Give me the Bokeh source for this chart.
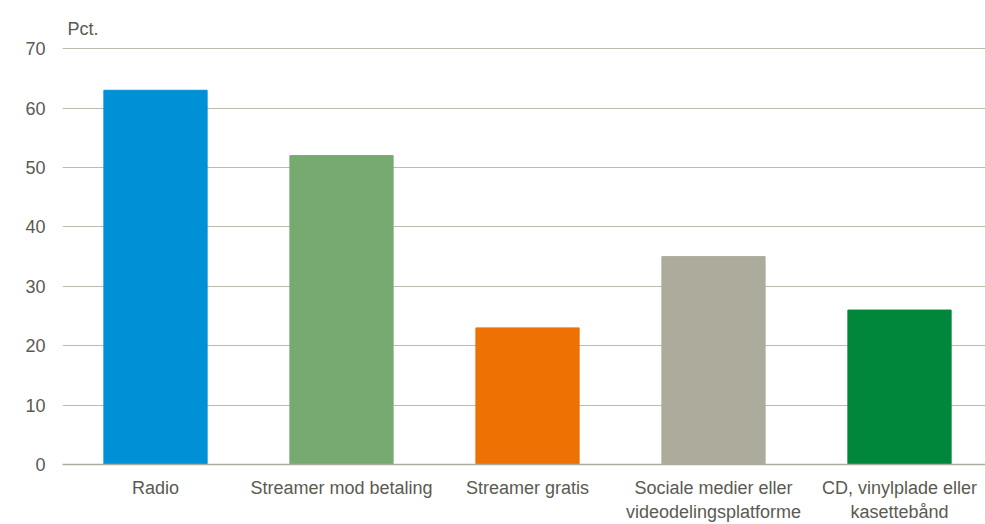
from bokeh.plotting import figure
from bokeh.models import Range1d, FixedTicker, ColumnDataSource
from bokeh.embed import file_html
from bokeh.resources import INLINE

categories = ["Radio", "Streamer mod betaling", "Streamer gratis",
              "Sociale medier eller\nvideodelingsplatforme", "CD, vinylplade eller\nkasettebånd"]
values = [63, 52, 23, 35, 26]
colors = ["#0090D5", "#77AA71", "#EE7203", "#ADAC9C", "#00873B"]
y_ticks = [0, 10, 20, 30, 40, 50, 60, 70]

FONT = "Liberation Sans"
TXT = "#5a5a52"

xpos = [i + 0.5 for i in range(len(categories))]
src = ColumnDataSource(dict(x=xpos, top=values, color=colors))

p = figure(width=985, height=524, output_backend="svg", toolbar_location=None,
           x_range=Range1d(0, 923 / 186), y_range=Range1d(0, 70.2),
           min_border_left=62, min_border_right=0, min_border_top=47, min_border_bottom=60,
           title="Pct.")
p.outline_line_color = None
p.background_fill_color = "white"
p.border_fill_color = "white"

p.vbar(x="x", top="top", width=0.555, color="color", source=src)

p.title.text_font = FONT
p.title.text_font_size = "18px"
p.title.text_font_style = "normal"
p.title.text_color = TXT
p.title.offset = 5
p.title.standoff = 18

p.yaxis.ticker = FixedTicker(ticks=y_ticks)
p.yaxis.axis_line_color = None
p.yaxis.major_tick_line_color = None
p.yaxis.minor_tick_line_color = None
p.yaxis.major_tick_out = 0
p.yaxis.major_tick_in = 0
p.yaxis.major_label_standoff = 17
p.yaxis.major_label_text_font = FONT
p.yaxis.major_label_text_font_size = "18px"
p.yaxis.major_label_text_color = TXT

p.xaxis.ticker = FixedTicker(ticks=xpos)
p.xaxis.major_label_overrides = {x: c for x, c in zip(xpos, categories)}
p.xaxis.axis_line_color = "#aeac9f"
p.xaxis.axis_line_width = 1.5
p.xaxis.major_tick_line_color = None
p.xaxis.minor_tick_line_color = None
p.xaxis.major_tick_out = 0
p.xaxis.major_tick_in = 0
p.xaxis.major_label_standoff = 13
p.xaxis.major_label_text_font = FONT
p.xaxis.major_label_text_font_size = "18px"
p.xaxis.major_label_text_color = TXT

p.xgrid.grid_line_color = None
p.ygrid.grid_line_color = "#bdbbb0"
p.ygrid.grid_line_width = 1

open("out.html", "w").write(file_html(p, INLINE))
